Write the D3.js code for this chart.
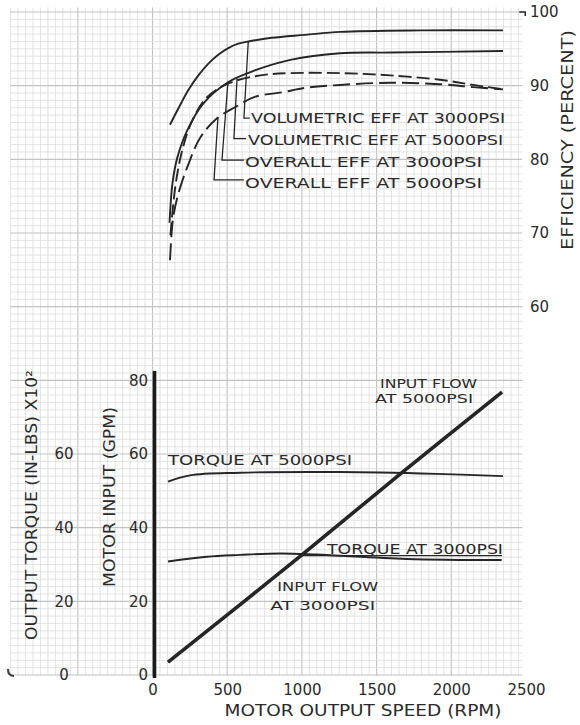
<!doctype html>
<html>
  <head>
    <meta charset="utf-8">
    <script src="https://cdn.jsdelivr.net/npm/d3@7/dist/d3.min.js"></script>
    <style>
      body { margin: 0; background: #fff; }
      svg text { font-family: "DejaVu Sans", sans-serif; fill: #2a2a2a; }
    </style>
  </head>
  <body>
    <svg width="580" height="725"></svg>
    <script>
      // efficiency curves (speed in rpm, efficiency in percent)
      const volEff3000Rpm = [117, 173, 240, 307, 374, 440, 507, 574, 641, 797, 1021, 1257, 1800, 2346];
      const volEff3000 = [84.7, 86.9, 89.4, 91.4, 93.0, 94.2, 95.1, 95.7, 96.0, 96.5, 96.9, 97.3, 97.5, 97.5];

      const volEff5000Rpm = [114, 134, 167, 234, 341, 508, 689, 922, 1255, 1600, 2346];
      const volEff5000 = [71.4, 76.8, 80.3, 84.0, 87.6, 90.5, 92.1, 93.5, 94.4, 94.5, 94.7];

      const ovEff3000Rpm = [120, 154, 200, 267, 368, 521, 722, 922, 1257, 1591, 1925, 2146, 2346];
      const ovEff3000 = [69.7, 76.5, 81.3, 85.3, 88.5, 90.4, 91.4, 91.7, 91.7, 91.4, 90.8, 90.1, 89.5];

      const ovEff5000Rpm = [117, 128, 139, 174, 234, 321, 434, 555, 689, 869, 1023, 1257, 1591, 1925, 2146, 2346];
      const ovEff5000 = [66.3, 70.0, 72.2, 75.4, 79.0, 83.0, 85.6, 87.1, 88.5, 89.1, 89.7, 90.1, 90.4, 90.2, 89.8, 89.5];

      // torque (in-lbs x100) and input flow (gpm)
      const torque5000Rpm = [104, 251, 585, 1250, 1900, 2346];
      const torque5000 = [52.5, 54.2, 54.9, 55.1, 54.6, 54.0];
      const torque3000Rpm = [104, 363, 585, 853, 1100, 1700, 2337];
      const torque3000 = [30.8, 32.1, 32.6, 33.0, 32.7, 31.5, 31.2];

      const flow3000Rpm = [104, 1000, 1659, 2339];
      const flow3000 = [3.5, 32.6, 54.6, 76.8];
      const flow5000Rpm = [104, 1000, 1659, 2339];
      const flow5000 = [3.5, 32.6, 54.6, 76.8];

      const speedTicks = [0, 500, 1000, 1500, 2000, 2500];
      const effTicks = [60, 70, 80, 90, 100];
      const gpmTicks = [0, 20, 40, 60, 80];
      const torqueTicks = [0, 20, 40, 60];

      const svg = d3.select("svg");
      const ink = "#262626";

      const x = d3.scaleLinear().domain([0, 2500]).range([152.5, 526]);
      const yEff = d3.scaleLinear().domain([10, 100]).range([675, 12]);
      const yGpm = d3.scaleLinear().domain([0, 80]).range([675, 380.3]);

      // graph paper
      const grid = svg.append("g");
      const gx0 = x(-950), gx1 = x(2475), gy0 = yEff(100.6), gy1 = yEff(9.9);
      grid.selectAll("line.v")
        .data(d3.range(-950, 2476, 50))
        .enter().append("line")
        .attr("x1", d => x(d)).attr("x2", d => x(d))
        .attr("y1", gy0).attr("y2", gy1)
        .attr("stroke", d => d % 500 === 0 ? "#c2c2c2" : "#dcdcdc")
        .attr("stroke-width", d => d % 500 === 0 ? 1.1 : 0.8);
      grid.selectAll("line.h")
        .data(d3.range(10, 100.01, 1))
        .enter().append("line")
        .attr("y1", d => yEff(d)).attr("y2", d => yEff(d))
        .attr("x1", gx0).attr("x2", gx1)
        .attr("stroke", d => d % 10 === 0 ? "#c2c2c2" : "#dcdcdc")
        .attr("stroke-width", d => d % 10 === 0 ? 1.1 : 0.8);

      // corner marks
      svg.append("path")
        .attr("d", "M" + (gx1 - 3) + "," + yEff(100) + "H" + (gx1 + 3) + "V" + (yEff(100) + 4))
        .attr("fill", "none").attr("stroke", ink).attr("stroke-width", 1.5);
      svg.append("path")
        .attr("d", "M8,669 Q8,676 14,676")
        .attr("fill", "none").attr("stroke", "#444").attr("stroke-width", 2.2);

      function zipped(rpm, vals) { return rpm.map((r, i) => [r, vals[i]]); }

      const effLine = d3.line().x(d => x(d[0])).y(d => yEff(d[1])).curve(d3.curveCatmullRom);
      const lowLine = d3.line().x(d => x(d[0])).y(d => yGpm(d[1])).curve(d3.curveCatmullRom);

      const effSeries = [
        { pts: zipped(volEff3000Rpm, volEff3000), dash: null },
        { pts: zipped(volEff5000Rpm, volEff5000), dash: null },
        { pts: zipped(ovEff3000Rpm, ovEff3000), dash: "13,5" },
        { pts: zipped(ovEff5000Rpm, ovEff5000), dash: "17,6" }
      ];
      svg.append("g").selectAll("path")
        .data(effSeries)
        .enter().append("path")
        .attr("d", d => effLine(d.pts))
        .attr("fill", "none")
        .attr("stroke", ink)
        .attr("stroke-width", 1.9)
        .attr("stroke-dasharray", d => d.dash);

      // leaders for efficiency labels ([rpm, percent])
      const effLabels = [
        { text: "VOLUMETRIC EFF AT 3000PSI", lead: [[641, 96.0], [612, 85.6], [650, 85.6]], at: [660, 85.6], len: 254 },
        { text: "VOLUMETRIC EFF AT 5000PSI", lead: [[566, 91.0], [545, 82.8], [626, 82.8]], at: [640, 82.6], len: 255 },
        { text: "OVERALL EFF AT 3000PSI", lead: [[505, 90.5], [465, 79.9], [612, 79.9]], at: [620, 79.6], len: 237 },
        { text: "OVERALL EFF AT 5000PSI", lead: [[438, 85.7], [412, 77.2], [612, 77.2]], at: [620, 76.8], len: 237 }
      ];
      const leadLine = d3.line().x(d => x(d[0])).y(d => yEff(d[1]));
      svg.append("g").selectAll("path")
        .data(effLabels)
        .enter().append("path")
        .attr("d", d => leadLine(d.lead))
        .attr("fill", "none").attr("stroke", ink).attr("stroke-width", 1.3);
      svg.append("g").selectAll("text")
        .data(effLabels)
        .enter().append("text")
        .attr("x", d => x(d.at[0]))
        .attr("y", d => yEff(d.at[1]))
        .attr("dy", "0.36em")
        .attr("font-size", 14)
        .attr("textLength", d => d.len)
        .attr("lengthAdjust", "spacingAndGlyphs")
        .text(d => d.text);

      // lower chart lines
      const lowSeries = [
        { pts: zipped(torque5000Rpm, torque5000), w: 1.9 },
        { pts: zipped(torque3000Rpm, torque3000), w: 1.9 },
        { pts: zipped(flow3000Rpm, flow3000), w: 3.6 },
        { pts: zipped(flow5000Rpm, flow5000), w: 2.2 }
      ];
      svg.append("g").selectAll("path")
        .data(lowSeries)
        .enter().append("path")
        .attr("d", d => lowLine(d.pts))
        .attr("fill", "none")
        .attr("stroke", ink)
        .attr("stroke-width", d => d.w);

      const lowLabels = [
        { text: "TORQUE AT 5000PSI", at: [104, 58.4], len: 184, fs: 14 },
        { text: "TORQUE AT 3000PSI", at: [1168, 34.2], len: 176, fs: 14 },
        { text: "INPUT FLOW", at: [835, 24.0], len: 101, fs: 12.5 },
        { text: "AT 3000PSI", at: [788, 19.0], len: 105, fs: 12.5 },
        { text: "INPUT FLOW", at: [1523, 79.2], len: 97, fs: 12.5 },
        { text: "AT 5000PSI", at: [1490, 75.1], len: 98, fs: 12.5 }
      ];
      svg.append("g").selectAll("text")
        .data(lowLabels)
        .enter().append("text")
        .attr("x", d => x(d.at[0]))
        .attr("y", d => yGpm(d.at[1]))
        .attr("dy", "0.36em")
        .attr("font-size", d => d.fs)
        .attr("textLength", d => d.len)
        .attr("lengthAdjust", "spacingAndGlyphs")
        .text(d => d.text);
      svg.append("line")
        .attr("x1", x(985)).attr("x2", x(2340))
        .attr("y1", yGpm(32.4)).attr("y2", yGpm(32.4))
        .attr("stroke", ink).attr("stroke-width", 1.4);

      // axes
      const effAxis = svg.append("g")
        .attr("transform", "translate(530,0)")
        .call(d3.axisRight(yEff).tickValues(effTicks).tickSize(0).tickPadding(0));
      effAxis.select(".domain").remove();
      effAxis.selectAll("text").attr("font-size", 15).attr("text-anchor", "start").attr("x", 0);

      const speedAxis = svg.append("g")
        .attr("transform", "translate(0,690)")
        .call(d3.axisBottom(x).tickValues(speedTicks).tickFormat(d3.format("d")).tickSize(0).tickPadding(0));
      speedAxis.select(".domain").remove();
      speedAxis.selectAll("text").attr("font-size", 15).attr("y", 0).attr("dy", "0.36em");

      const gpmAxis = svg.append("g")
        .attr("transform", "translate(148,0)")
        .call(d3.axisLeft(yGpm).tickValues(gpmTicks).tickSize(0).tickPadding(0));
      gpmAxis.select(".domain").remove();
      gpmAxis.selectAll("text").attr("font-size", 15);

      const torqueAxis = svg.append("g")
        .attr("transform", "translate(64,0)")
        .call(d3.axisLeft(yGpm).tickValues(torqueTicks).tickSize(0).tickPadding(0));
      torqueAxis.select(".domain").remove();
      torqueAxis.selectAll("text").attr("font-size", 15).attr("text-anchor", "middle");

      // heavy vertical axis of the lower chart
      svg.append("line")
        .attr("x1", x(0) + 2).attr("x2", x(0) + 2)
        .attr("y1", yGpm(82.5)).attr("y2", yGpm(-0.8))
        .attr("stroke", "#1a1a1a").attr("stroke-width", 3.6);

      // axis titles
      svg.append("text")
        .attr("transform", "translate(568,140) rotate(-90)")
        .attr("text-anchor", "middle").attr("dy", "0.36em")
        .attr("font-size", 15)
        .attr("textLength", 220).attr("lengthAdjust", "spacingAndGlyphs")
        .text("EFFICIENCY   (PERCENT)");

      svg.append("text")
        .attr("x", 363).attr("y", 711)
        .attr("text-anchor", "middle").attr("dy", "0.36em")
        .attr("font-size", 15)
        .attr("textLength", 277).attr("lengthAdjust", "spacingAndGlyphs")
        .text("MOTOR OUTPUT SPEED (RPM)");

      svg.append("text")
        .attr("transform", "translate(32,505) rotate(-90)")
        .attr("text-anchor", "middle").attr("dy", "0.36em")
        .attr("font-size", 15)
        .attr("textLength", 270).attr("lengthAdjust", "spacingAndGlyphs")
        .text("OUTPUT TORQUE (IN-LBS) X10²");

      svg.append("text")
        .attr("transform", "translate(110,497) rotate(-90)")
        .attr("text-anchor", "middle").attr("dy", "0.36em")
        .attr("font-size", 15)
        .attr("textLength", 180).attr("lengthAdjust", "spacingAndGlyphs")
        .text("MOTOR INPUT (GPM)");
    </script>
  </body>
</html>
